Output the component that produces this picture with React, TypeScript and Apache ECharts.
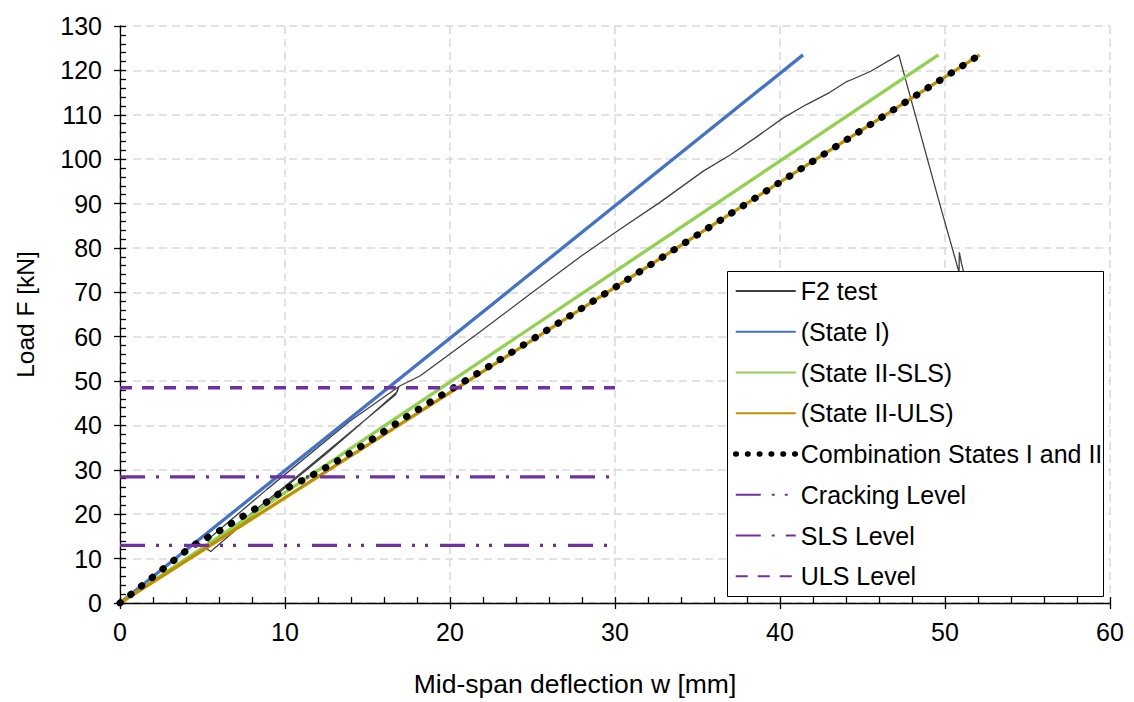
import React, { useEffect, useRef } from "react";
import * as echarts from "echarts";

const FONT = '"Liberation Sans", Arial, sans-serif';

// Test curve F2 [deflection mm, load kN]
const testF2: [number, number][] = [
  [0, 0], [1.5, 4.4], [3, 8.9], [4.3, 12.8], [4.7, 13.6], [5.5, 11.6],
  [7.5, 18.0], [10.3, 26.9], [12.5, 33.6], [14.3, 39.4], [16.8, 47.6], [16.9, 48.7],
  [16.7, 46.9], [10.5, 27.8], [5.6, 13.2], [5.3, 14.2], [8.9, 25.6], [13.9, 40.9],
  [16.95, 48.9], [18.2, 51.2], [21.6, 60.5], [25, 70], [28, 78.3], [30.3, 84.2],
  [32.7, 90.2], [35.35, 97.3], [37, 101], [38.5, 104.8], [40.2, 109.3], [41.6, 112.3],
  [43, 115], [44.0, 117.4], [44.4, 118.0], [45.5, 119.8], [47.2, 123.5],
  [49.6, 91], [50.85, 74.5], [50.87, 79.0], [51.0, 76.5], [51.3, 72], [51.6, 60],
];

const stateI: [number, number][] = [[0, 0], [41.4, 123.5]];
const stateIISLS: [number, number][] = [[0, 0], [49.6, 123.5]];
const stateIIULS: [number, number][] = [[0, 0], [52.1, 123.5]];

const combination: [number, number][] = [
  [0, 0], [1, 2.95], [2, 5.9], [3, 8.85], [4.4, 12.9], [5, 14.1], [6, 16.2], [7, 18.5],
  [8, 20.8], [9, 23.0], [10, 25.6], [11.5, 28.5], [13, 31.6], [15, 36.2], [17.5, 42.3],
  [20, 48.0], [22.5, 53.6], [25, 59.4], [30, 71.1], [40, 94.8], [52.1, 123.5],
];

const crackingLevel: [number, number][] = [[0, 13], [30, 13]];
const slsLevel: [number, number][] = [[0, 28.4], [30, 28.4]];
const ulsLevel: [number, number][] = [[0, 48.5], [30, 48.5]];

const seriesNames = [
  "F2 test",
  "(State I)",
  "(State II-SLS)",
  "(State II-ULS)",
  "Combination States I and II",
  "Cracking Level",
  "SLS Level",
  "ULS Level",
];

const PURPLE = "#7030A0";
const FS = 25;

export default function App() {
  const ref = useRef<HTMLDivElement>(null);
  useEffect(() => {
    const chart = echarts.init(ref.current!, undefined, { renderer: "svg" });
    const tickLine = { color: "#000", width: 1.3 };
    const line = (name: string, data: [number, number][], lineStyle: any) => ({
      name,
      type: "line",
      data,
      symbol: "none",
      showSymbol: false,
      silent: true,
      lineStyle,
      itemStyle: { color: lineStyle.color, opacity: 0 },
    });
    chart.setOption({
      animation: false,
      backgroundColor: "#fff",
      textStyle: { fontFamily: FONT },
      grid: { left: 120, right: 24, top: 26, bottom: 97 },
      xAxis: [
        {
          type: "value",
          min: 0,
          max: 60,
          interval: 10,
          position: "bottom",
          axisLine: { show: true, onZero: false, lineStyle: tickLine },
          axisTick: { show: true, inside: true, length: 6, lineStyle: tickLine },
          minorTick: { show: true, splitNumber: 5, length: 6, lineStyle: tickLine },
          splitLine: { show: true, lineStyle: { color: "#D9D9D9", width: 1.5, type: [8, 5] } },
          axisLabel: { color: "#000", fontSize: FS, fontFamily: FONT, margin: 16 },
          name: "Mid-span deflection w [mm]",
          nameLocation: "middle",
          nameGap: 67,
          nameTextStyle: { color: "#000", fontSize: 26.5, fontFamily: FONT, padding: [0, 80, 0, 0] },
        },
        {
          type: "value",
          min: 0,
          max: 60,
          interval: 10,
          position: "bottom",
          axisLine: { show: false },
          axisTick: { show: true, inside: false, length: 6, lineStyle: tickLine },
          axisLabel: { show: false },
          splitLine: { show: false },
        },
      ],
      yAxis: [
        {
          type: "value",
          min: 0,
          max: 130,
          interval: 10,
          position: "left",
          axisLine: { show: true, onZero: false, lineStyle: tickLine },
          axisTick: { show: true, inside: true, length: 6, lineStyle: tickLine },
          minorTick: { show: true, splitNumber: 5, length: 6, lineStyle: tickLine },
          splitLine: { show: true, lineStyle: { color: "#D9D9D9", width: 1.5, type: [8, 5] } },
          axisLabel: { color: "#000", fontSize: FS, fontFamily: FONT, margin: 18 },
          name: "Load F [kN]",
          nameLocation: "middle",
          nameGap: 82,
          nameTextStyle: { color: "#000", fontSize: 24.5, fontFamily: FONT },
        },
        {
          type: "value",
          min: 0,
          max: 130,
          interval: 10,
          position: "left",
          axisLine: { show: false },
          axisTick: { show: true, inside: false, length: 6, lineStyle: tickLine },
          axisLabel: { show: false },
          splitLine: { show: false },
        },
      ],
      graphic: [
        {
          type: "rect",
          z: 5,
          silent: true,
          shape: { x: 727.5, y: 271.5, width: 376, height: 325 },
          style: { fill: "#fff", stroke: "#000", lineWidth: 1 },
        },
      ],
      legend: {
        z: 10,
        orient: "vertical",
        left: 733,
        top: 278,
        padding: 0,
        itemWidth: 60,
        itemHeight: 14,
        itemGap: 14.76,
        selectedMode: false,
        backgroundColor: "transparent",
        itemStyle: { opacity: 0 },
        textStyle: { color: "#000", fontSize: FS, lineHeight: 26, fontFamily: FONT },
        data: seriesNames.map((n) =>
          n === "Combination States I and II"
            ? { name: n, lineStyle: { color: "#000", width: 5.5, type: [0.5, 11.3], cap: "round" } }
            : { name: n }
        ),
      },
      series: [
        line(seriesNames[0], testF2, { color: "#404040", width: 1.3 }),
        line(seriesNames[1], stateI, { color: "#4472C4", width: 3.3 }),
        line(seriesNames[2], stateIISLS, { color: "#92D050", width: 3.3 }),
        line(seriesNames[3], stateIIULS, { color: "#BF9000", width: 3.3 }),
        line(seriesNames[4], combination, { color: "#000", width: 7, type: [0.5, 13.2], cap: "round" }),
        line(seriesNames[5], crackingLevel, { color: PURPLE, width: 3.3, type: [25, 11, 3, 10, 3, 12] }),
        line(seriesNames[6], slsLevel, { color: PURPLE, width: 3.3, type: [25, 11, 3, 11] }),
        line(seriesNames[7], ulsLevel, { color: PURPLE, width: 3.3, type: [12, 10] }),
      ],
    });
    return () => chart.dispose();
  }, []);
  return (
    <div
      ref={ref}
      style={{ position: "absolute", left: 0, top: 0, width: 1134, height: 702, background: "#fff" }}
    />
  );
}
